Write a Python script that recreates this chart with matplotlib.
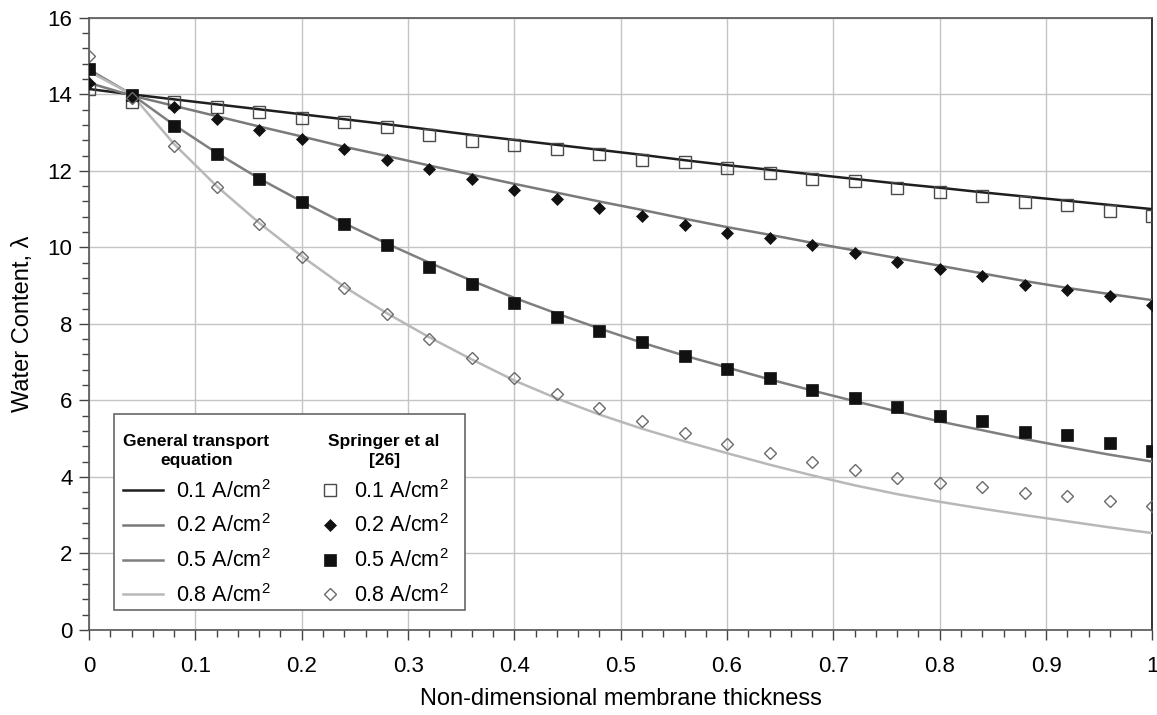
import matplotlib
matplotlib.use("Agg")
import matplotlib.pyplot as plt
from matplotlib.patches import Rectangle
from matplotlib.ticker import MultipleLocator, FuncFormatter
from matplotlib.transforms import Bbox

plt.rcParams["font.family"] = ["Liberation Sans", "DejaVu Sans"]
plt.rcParams["mathtext.default"] = "regular"

# thickness positions (same grid for model curves and Springer points)
thickness = [0.0, 0.04, 0.08, 0.12, 0.16, 0.20, 0.24, 0.28, 0.32, 0.36, 0.40, 0.44, 0.48,
             0.52, 0.56, 0.60, 0.64, 0.68, 0.72, 0.76, 0.80, 0.84, 0.88, 0.92, 0.96, 1.0]

current_labels = ["0.1 A/cm$^2$", "0.2 A/cm$^2$", "0.5 A/cm$^2$", "0.8 A/cm$^2$"]

# general transport equation (lines)
model_01 = [14.14, 14.0, 13.87, 13.74, 13.61, 13.48, 13.35, 13.22, 13.08, 12.94, 12.81, 12.68, 12.55,
            12.42, 12.28, 12.15, 12.03, 11.91, 11.79, 11.67, 11.56, 11.44, 11.33, 11.22, 11.11, 11.0]
model_02 = [14.3, 13.97, 13.70, 13.43, 13.16, 12.9, 12.63, 12.39, 12.14, 11.9, 11.66, 11.43, 11.2,
            10.98, 10.75, 10.53, 10.33, 10.12, 9.92, 9.72, 9.52, 9.32, 9.12, 8.94, 8.78, 8.62]
model_05 = [14.65, 14.0, 13.2, 12.47, 11.8, 11.2, 10.63, 10.1, 9.6, 9.13, 8.68, 8.27, 7.88,
            7.51, 7.17, 6.86, 6.55, 6.26, 5.98, 5.71, 5.45, 5.22, 4.99, 4.78, 4.58, 4.40]
model_08 = [14.6, 14.0, 12.7, 11.6, 10.64, 9.77, 8.97, 8.28, 7.65, 7.07, 6.52, 6.05, 5.63,
            5.26, 4.93, 4.62, 4.32, 4.04, 3.78, 3.55, 3.35, 3.17, 3.0, 2.84, 2.68, 2.53]

# Springer et al [26] (markers)
springer_01 = [14.14, 13.79, 13.81, 13.66, 13.55, 13.37, 13.27, 13.14, 12.93, 12.79, 12.68, 12.56, 12.43,
               12.29, 12.22, 12.07, 11.94, 11.80, 11.74, 11.56, 11.45, 11.34, 11.19, 11.10, 10.96, 10.82]
springer_02 = [14.29, 13.92, 13.66, 13.36, 13.07, 12.83, 12.57, 12.29, 12.06, 11.78, 11.5, 11.26, 11.02,
               10.81, 10.59, 10.37, 10.24, 10.06, 9.85, 9.62, 9.43, 9.24, 9.01, 8.88, 8.73, 8.50]
springer_05 = [14.66, 13.99, 13.17, 12.44, 11.79, 11.18, 10.60, 10.07, 9.50, 9.05, 8.54, 8.19, 7.82,
               7.52, 7.16, 6.82, 6.59, 6.27, 6.06, 5.84, 5.59, 5.45, 5.18, 5.10, 4.88, 4.69]
springer_08 = [15.0, 13.9, 12.64, 11.57, 10.62, 9.76, 8.94, 8.27, 7.61, 7.12, 6.58, 6.17, 5.80,
               5.46, 5.16, 4.86, 4.62, 4.38, 4.18, 3.97, 3.83, 3.73, 3.59, 3.51, 3.37, 3.25]

line_colors = ["#1e1e1e", "#7a7a7a", "#7f7f7f", "#b8b8b8"]
marker_styles = [
    dict(marker="s", markersize=8.5, markerfacecolor="none", markeredgecolor="#4a4a4a", markeredgewidth=1.0),
    dict(marker="D", markersize=6.5, markerfacecolor="#111111", markeredgecolor="#111111", markeredgewidth=0.5),
    dict(marker="s", markersize=8.5, markerfacecolor="#111111", markeredgecolor="#111111", markeredgewidth=0.5),
    dict(marker="D", markersize=6.5, markerfacecolor="none", markeredgecolor="#6a6a6a", markeredgewidth=1.0),
]

fig = plt.figure(figsize=(11.57, 7.15), dpi=100)
ax = fig.add_axes([0.077, 0.119, 0.919, 0.856])

model_sets = [model_01, model_02, model_05, model_08]
springer_sets = [springer_01, springer_02, springer_05, springer_08]

line_handles = []
marker_handles = []
for i in range(4):
    h, = ax.plot(thickness, model_sets[i], color=line_colors[i], lw=1.8, zorder=3)
    line_handles.append(h)
    m, = ax.plot(thickness, springer_sets[i], ls="none", zorder=4, **marker_styles[i])
    marker_handles.append(m)

ax.set_xlim(0, 1)
ax.set_ylim(0, 16)
ax.xaxis.set_major_locator(MultipleLocator(0.1))
ax.xaxis.set_minor_locator(MultipleLocator(0.02))
ax.yaxis.set_major_locator(MultipleLocator(2))
ax.yaxis.set_minor_locator(MultipleLocator(0.4))
ax.xaxis.set_major_formatter(FuncFormatter(lambda v, p: "%g" % round(v, 2)))
ax.grid(True, which="major", color="#c4c4c4", lw=1.0, zorder=0)
ax.set_axisbelow(True)
ax.tick_params(which="major", direction="out", length=7, width=1, color="#444444", labelsize=16)
ax.tick_params(which="minor", direction="out", length=5, width=1, color="#444444")
ax.tick_params(axis="x", which="major", pad=12)
ax.tick_params(axis="y", which="major", pad=5)
for s in ax.spines.values():
    s.set_color("#555555")
    s.set_linewidth(1.2)
ax.spines["right"].set_color("#111111")

ax.set_xlabel("Non-dimensional membrane thickness", fontsize=17, labelpad=8)
ax.set_ylabel("Water Content, λ", fontsize=17, labelpad=10)

leg_kw = dict(frameon=False, fontsize=15.5, labelspacing=0.55, title_fontsize=12.5,
              borderpad=0.4, handletextpad=0.6)
leg1 = ax.legend(line_handles, current_labels, loc="lower left", bbox_to_anchor=(0.0135, 0.006),
                 title="General transport\nequation", handlelength=1.85, **leg_kw)
ax.add_artist(leg1)
leg2 = ax.legend(marker_handles, current_labels, loc="lower left", bbox_to_anchor=(0.1985, 0.006),
                 title="Springer et al\n[26]", handlelength=1.0, **leg_kw)
for leg in (leg1, leg2):
    t = leg.get_title()
    t.set_fontweight("bold")
    t.set_multialignment("center")
    t.set_linespacing(1.3)

# one shared frame round both legend columns
fig.canvas.draw()
renderer = fig.canvas.get_renderer()
box = Bbox.union([leg1.get_window_extent(renderer), leg2.get_window_extent(renderer)])
box = Bbox.from_extents(box.x0, box.y0 + 5, box.x1 + 8, box.y1 + 12)
box = box.transformed(ax.transAxes.inverted())
ax.add_patch(Rectangle((box.x0, box.y0), box.width, box.height, transform=ax.transAxes,
                       facecolor="white", edgecolor="#666666", lw=1.2, zorder=4.5))

fig.savefig("out.png", dpi=100)
